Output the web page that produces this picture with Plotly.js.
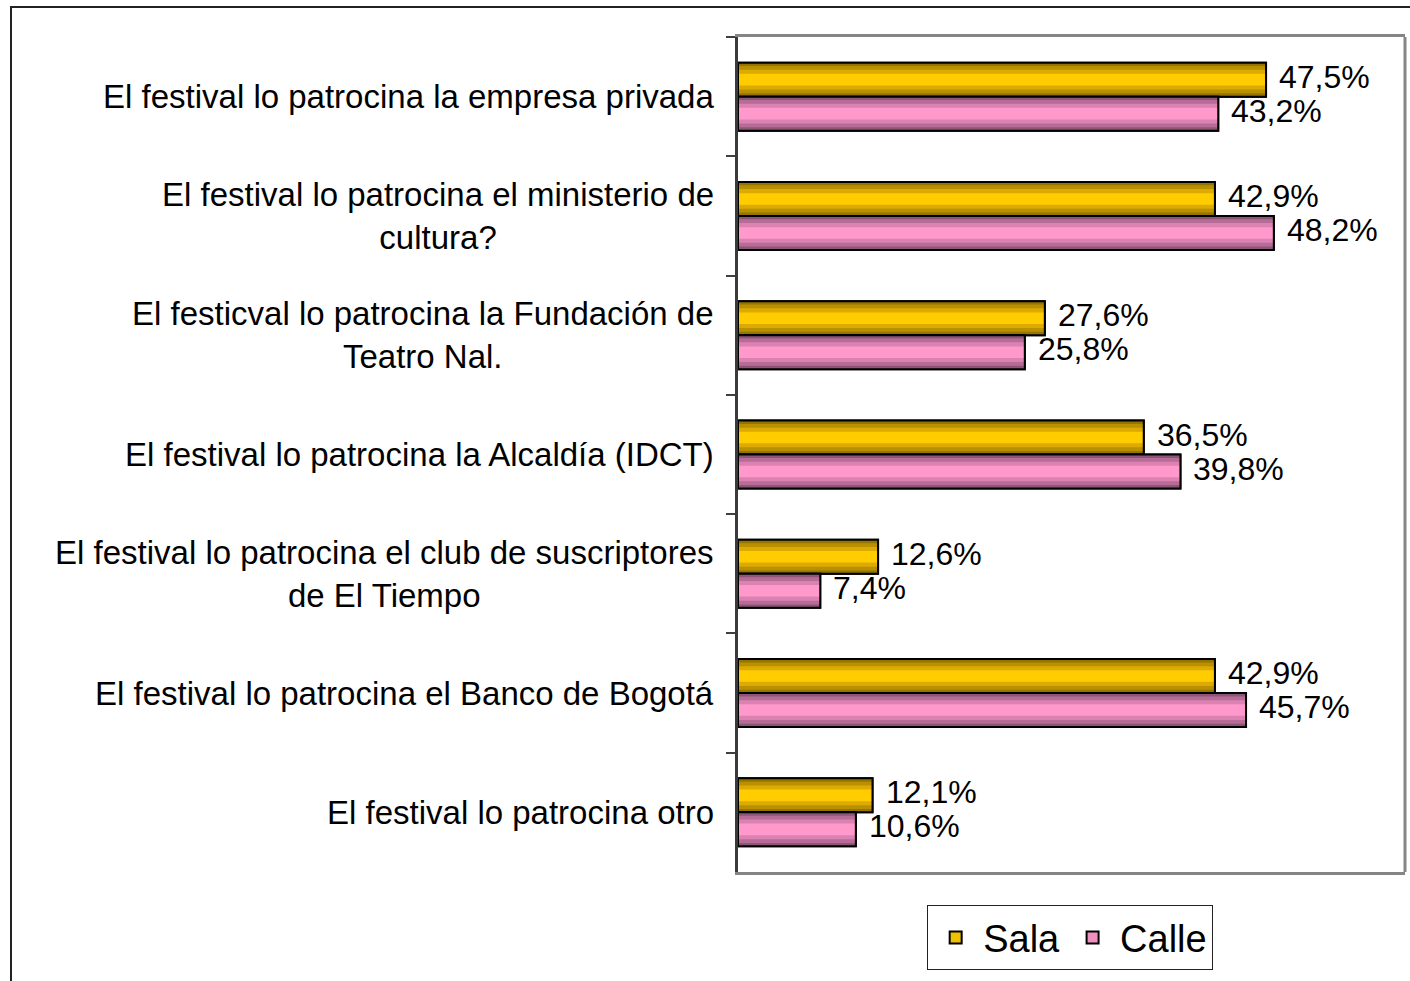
<!DOCTYPE html>
<html>
<head>
<meta charset="utf-8">
<script src="https://cdn.plot.ly/plotly-3.0.1.min.js"></script>
<style>
  html, body { margin:0; padding:0; background:#fff; overflow:hidden; }
  #frame { position:absolute; left:10px; top:6px; width:1500px; height:1100px;
           border-left:2px solid #222; border-top:2px solid #222; }
  #chart { position:absolute; left:0; top:0; width:1410px; height:981px; }
</style>
</head>
<body>
<div id="frame"></div>
<div id="chart"></div>
<script>
const categories = [
  "El festival lo patrocina la empresa privada",
  "El festival lo patrocina el ministerio de cultura?",
  "El festicval lo patrocina la Fundación de Teatro Nal.",
  "El festival lo patrocina la Alcaldía (IDCT)",
  "El festival lo patrocina el club de suscriptores de El Tiempo",
  "El festival lo patrocina el Banco de Bogotá",
  "El festival lo patrocina otro"
];
const tickLabels = [
  "El festival lo patrocina la empresa privada",
  "El festival lo patrocina el ministerio de<br>cultura?",
  "El festicval lo patrocina la Fundación de<br>Teatro Nal.",
  "El festival lo patrocina la Alcaldía (IDCT)",
  "El festival lo patrocina el club de suscriptores<br>de El Tiempo",
  "El festival lo patrocina el Banco de Bogotá",
  "El festival lo patrocina otro"
];
const seriesNames = ["Sala", "Calle"];
const sala  = [47.5, 42.9, 27.6, 36.5, 12.6, 42.9, 12.1];
const calle = [43.2, 48.2, 25.8, 39.8,  7.4, 45.7, 10.6];

const FONT = "Liberation Sans, Arial, sans-serif";
const BAR = 0.285;
const stripeFrac = [1.0, 0.8, 0.58, 0.34];
const palettes = [
  { legend: "#f0c000", stripes: ["#957400", "#b89000", "#dcaa00", "#ffcc00"] },
  { legend: "#f090c0", stripes: ["#8e5676", "#b66c96", "#dc82b2", "#ff99cc"] }
];
const centers = [-BAR / 2, BAR / 2];

const traces = [];
const annotations = [];
[sala, calle].forEach((vals, s) => {
  const c = centers[s];
  const pal = palettes[s];
  traces.push({
    type: "bar", orientation: "h", name: seriesNames[s], x: vals, y: categories,
    width: BAR, offset: c - BAR / 2, legendgroup: seriesNames[s],
    marker: { color: pal.legend, line: { color: "#000", width: 2 } },
    hoverinfo: "skip"
  });
  stripeFrac.forEach((f, k) => {
    const w = BAR * f;
    traces.push({
      type: "bar", orientation: "h", name: seriesNames[s], x: vals, y: categories,
      width: w, offset: c - w / 2, legendgroup: seriesNames[s], showlegend: false,
      marker: { color: pal.stripes[k], line: { width: 0 } },
      hoverinfo: "skip"
    });
  });
  traces.push({
    type: "bar", orientation: "h", name: seriesNames[s], x: vals, y: categories,
    width: BAR, offset: c - BAR / 2, legendgroup: seriesNames[s], showlegend: false,
    marker: { color: "rgba(0,0,0,0)", line: { color: "#000", width: 2 } },
    hoverinfo: "x"
  });
  vals.forEach((v, i) => {
    annotations.push({
      x: v, xref: "x", y: i + c, yref: "y",
      text: v.toFixed(1).replace(".", ",") + "%",
      showarrow: false, xanchor: "left", yanchor: "middle",
      xshift: 11, yshift: 3,
      font: { family: FONT, size: 32, color: "#000" }
    });
  });
});

tickLabels.forEach((t, i) => {
  annotations.push({
    x: 0, xref: "paper", xanchor: "right", xshift: -22,
    y: i, yref: "y", yanchor: "middle",
    text: t, align: "center", showarrow: false,
    font: { family: FONT, size: 33, color: "#000" }
  });
});

const layout = {
  width: 1410, height: 981,
  margin: { l: 738, r: 5, t: 37, b: 109, pad: 0 },
  paper_bgcolor: "rgba(0,0,0,0)",
  plot_bgcolor: "#fff",
  barmode: "overlay",
  showlegend: true,
  font: { family: FONT, color: "#000" },
  xaxis: {
    range: [0, 60], showgrid: false, zeroline: false, showticklabels: false,
    ticks: "", showline: true, linecolor: "#858585", linewidth: 3, mirror: true,
    fixedrange: true
  },
  yaxis: {
    type: "category", categoryarray: categories, categoryorder: "array",
    range: [6.5, -0.5], showgrid: false, zeroline: false, showticklabels: false,
    ticks: "outside", tickson: "boundaries", ticklen: 9, tickwidth: 2, tickcolor: "#404040",
    showline: true, linecolor: "#3a3a3a", linewidth: 3, mirror: false,
    fixedrange: true
  },
  shapes: [
    { type: "line", xref: "paper", yref: "paper", x0: 1, x1: 1, y0: 0, y1: 1,
      line: { color: "#858585", width: 3 } }
  ],
  legend: {
    orientation: "h", x: 0.498, xanchor: "center", y: -0.04, yanchor: "top",
    bordercolor: "#222", borderwidth: 1, bgcolor: "#fff",
    font: { family: FONT, size: 38, color: "#000" },
    itemwidth: 45,
    traceorder: "normal", itemclick: false, itemdoubleclick: false
  },
  annotations: annotations
};

Plotly.newPlot("chart", traces, layout, { displayModeBar: false, staticPlot: true });
</script>
</body>
</html>
